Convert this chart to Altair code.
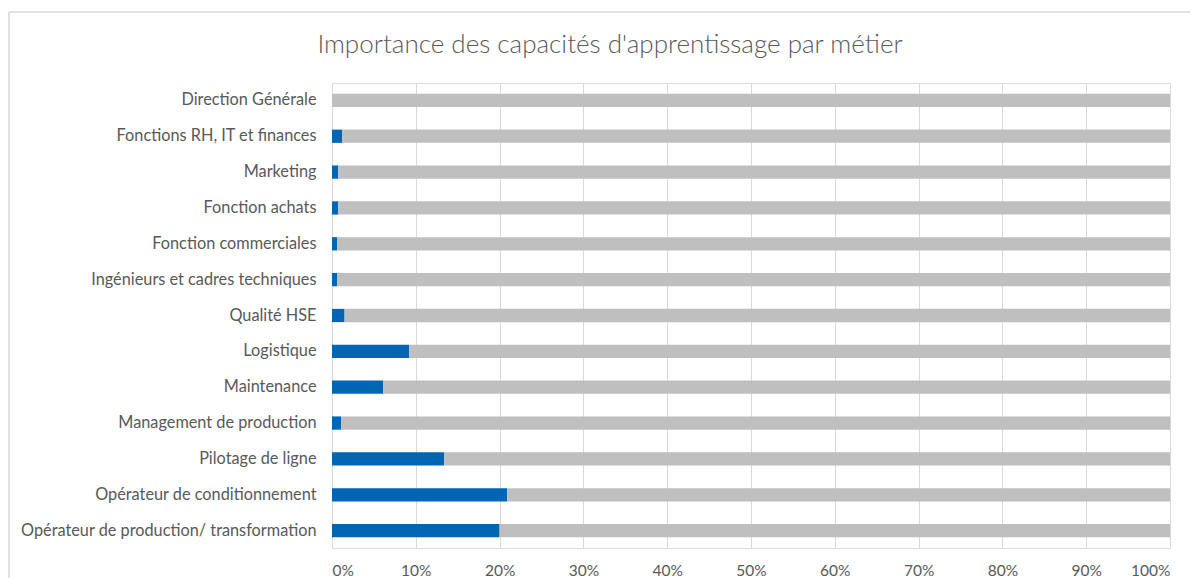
import altair as alt
import pandas as pd

title_text = "Importance des capacités d'apprentissage par métier"
categories = [
    "Direction Générale",
    "Fonctions RH, IT et finances",
    "Marketing",
    "Fonction achats",
    "Fonction commerciales",
    "Ingénieurs et cadres techniques",
    "Qualité HSE",
    "Logistique",
    "Maintenance",
    "Management de production",
    "Pilotage de ligne",
    "Opérateur de conditionnement",
    "Opérateur de production/ transformation",
]
important = [0.0, 1.2, 0.75, 0.75, 0.6, 0.6, 1.5, 9.2, 6.1, 1.1, 13.4, 20.9, 20.0]
other = [100 - v for v in important]

rows = []
for c, a, b in zip(categories, important, other):
    rows.append({"metier": c, "serie": "Important", "val": a, "ord": 0})
    rows.append({"metier": c, "serie": "Autre", "val": b, "ord": 1})
df = pd.DataFrame(rows)

bars = (
    alt.Chart(df)
    .mark_bar()
    .encode(
        y=alt.Y(
            "metier:N",
            sort=categories,
            title=None,
            scale=alt.Scale(paddingInner=0.63, paddingOuter=0.3),
            axis=alt.Axis(
                labelFont="Lato",
                labelFontSize=16.3,
                labelColor="#595959",
                labelPadding=16,
                ticks=False,
                domain=False,
                labelLimit=400,
            ),
        ),
        x=alt.X(
            "val:Q",
            stack="normalize",
            title=None,
            scale=alt.Scale(domain=[0, 1], nice=False),
            axis=alt.Axis(
                format=".0%",
                values=[i / 10 for i in range(11)],
                labelFont="Lato",
                labelFontSize=15.5,
                labelColor="#595959",
                labelPadding=15,
                ticks=False,
                domain=False,
                grid=True,
                gridColor="#D9D9D9",
                gridWidth=1,
            ),
        ),
        color=alt.Color(
            "serie:N",
            scale=alt.Scale(domain=["Important", "Autre"], range=["#0066B4", "#BFBFBF"]),
            legend=None,
        ),
        order=alt.Order("ord:Q"),
    )
)

frame_df = pd.DataFrame({"title": [title_text]})
border_left = alt.Chart(frame_df).mark_rule(color="#D9D9D9", strokeWidth=1.5, clip=False).encode(
    x=alt.value(-323), y=alt.value(-71), y2=alt.value(520)
)
border_top = alt.Chart(frame_df).mark_rule(color="#D9D9D9", strokeWidth=1.5, clip=False).encode(
    x=alt.value(-323), x2=alt.value(900), y=alt.value(-71)
)
title_mark = alt.Chart(frame_df).mark_text(
    font="Lato",
    fontSize=26,
    fontWeight=300,
    color="#595959",
    align="center",
    baseline="alphabetic",
    clip=False,
).encode(text="title:N", x=alt.value(278), y=alt.value(-30))

chart = (
    alt.layer(border_left, border_top, title_mark, bars)
    .properties(
        width=838,
        height=465,
        autosize=alt.AutoSizeParams(type="none"),
        padding={"left": 324, "top": 75, "right": 20, "bottom": 30},
    )
    .configure_view(stroke=None)
    .configure(background="white")
)

chart.save("out.html", embed_options={"renderer": "svg", "actions": False})
